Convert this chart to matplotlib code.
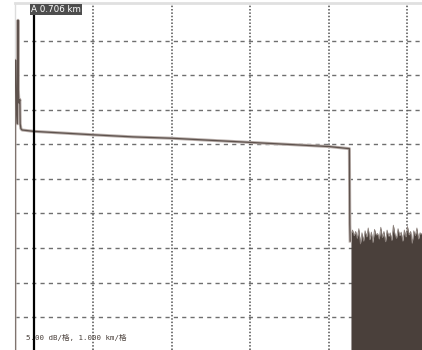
import matplotlib.pyplot as plt
import numpy as np

plt.rcParams['font.family'] = ['DejaVu Sans Mono', 'Noto Sans CJK SC']

# OTDR trace, distance in km, level in dB (5 dB/div, 1 km/div)
trace_km = [0.0, 0.0, 0.012, 0.02, 0.03, 0.038, 0.042, 0.05, 0.062, 0.066, 0.075, 0.09,
            0.24, 1.0, 1.5, 2.0, 2.5, 3.0, 3.5, 4.0, 4.255, 4.26, 4.265, 4.27]
trace_db = [-4.8, 37.2, 37.2, 30.0, 28.0, 43.0, 33.0, 31.0, 31.5, 28.0, 27.3, 27.1,
            26.9, 26.4, 26.1, 25.9, 25.6, 25.3, 25.0, 24.7, 24.4, 24.4, 13.5, 11.0]

noise_km = [4.28, 4.30, 4.32, 4.34, 4.36, 4.38, 4.40, 4.42, 4.44, 4.46, 4.48, 4.50,
            4.52, 4.54, 4.56, 4.58, 4.60, 4.62, 4.64, 4.66, 4.68, 4.70, 4.72, 4.74,
            4.76, 4.78, 4.80, 4.82, 4.84, 4.86, 4.88, 4.90, 4.92, 4.94, 4.96, 4.98,
            5.00, 5.02, 5.04, 5.06, 5.08, 5.10, 5.12, 5.14, 5.16, 5.185]
noise_db = [12.0, 12.6, 11.8, 12.4, 11.4, 12.8, 10.6, 12.2, 11.0, 12.5, 11.6, 12.9,
            11.2, 12.3, 10.8, 12.7, 11.9, 12.1, 11.3, 13.0, 11.5, 12.4, 10.9, 12.6,
            11.7, 12.2, 11.1, 13.3, 12.0, 11.4, 12.8, 11.8, 12.3, 11.0, 12.6, 11.6,
            13.1, 11.9, 12.4, 10.7, 12.5, 11.8, 12.9, 11.3, 12.2, 12.0]

marker_km = 0.242
marker_label = 'A 0.706 km'
scale_label = '5.00 dB/格, 1.000 km/格'

fig = plt.figure(figsize=(4.22, 3.5), dpi=100, facecolor='white')
ax = fig.add_axes([15 / 422, 0, 407 / 422, 347 / 350])
ax.set_xlim(0, 5.185)
ax.set_ylim(-4.78, 45.5)

# grid
for y in range(0, 45, 5):
    ax.axhline(y, color='#6f6f6f', lw=1.0, ls=(0, (3, 3)), zorder=1)
for x in range(1, 6):
    ax.axvline(x, color='#505050', lw=1.1, ls=(0, (1, 1.2)), zorder=1)

ax.fill_between(noise_km, noise_db, -4.78, color='#4a403b', lw=0, zorder=2)
ax.plot(noise_km, noise_db, color='#8a7f7a', lw=0.6, zorder=2)
ax.plot(trace_km, trace_db, color='#b8aeaa', lw=2.2, zorder=3)
ax.plot(trace_km, trace_db, color='#5e524d', lw=0.9, zorder=3)

ax.plot([marker_km, marker_km], [-4.78, 44.0], color='black', lw=1.6, zorder=4)
ax.text(0.204, 44.6, marker_label, fontsize=6.3, color='white', va='center', ha='left',
        family=['DejaVu Sans', 'Noto Sans CJK SC'],
        bbox=dict(boxstyle='square,pad=0.12', fc='#4d4d4d', ec='none'), zorder=5)
ax.text(0.14, -3.0, scale_label, fontsize=5.4, color='#4a403b', va='center', ha='left', zorder=5)

ax.set_xticks([])
ax.set_yticks([])
for side in ['right', 'bottom']:
    ax.spines[side].set_visible(False)
ax.spines['top'].set_color('#e0e0e0')
ax.spines['top'].set_linewidth(2)
ax.spines['left'].set_color('#dddddd')
ax.spines['left'].set_linewidth(1)

fig.savefig('out.png', dpi=100, facecolor='white')
